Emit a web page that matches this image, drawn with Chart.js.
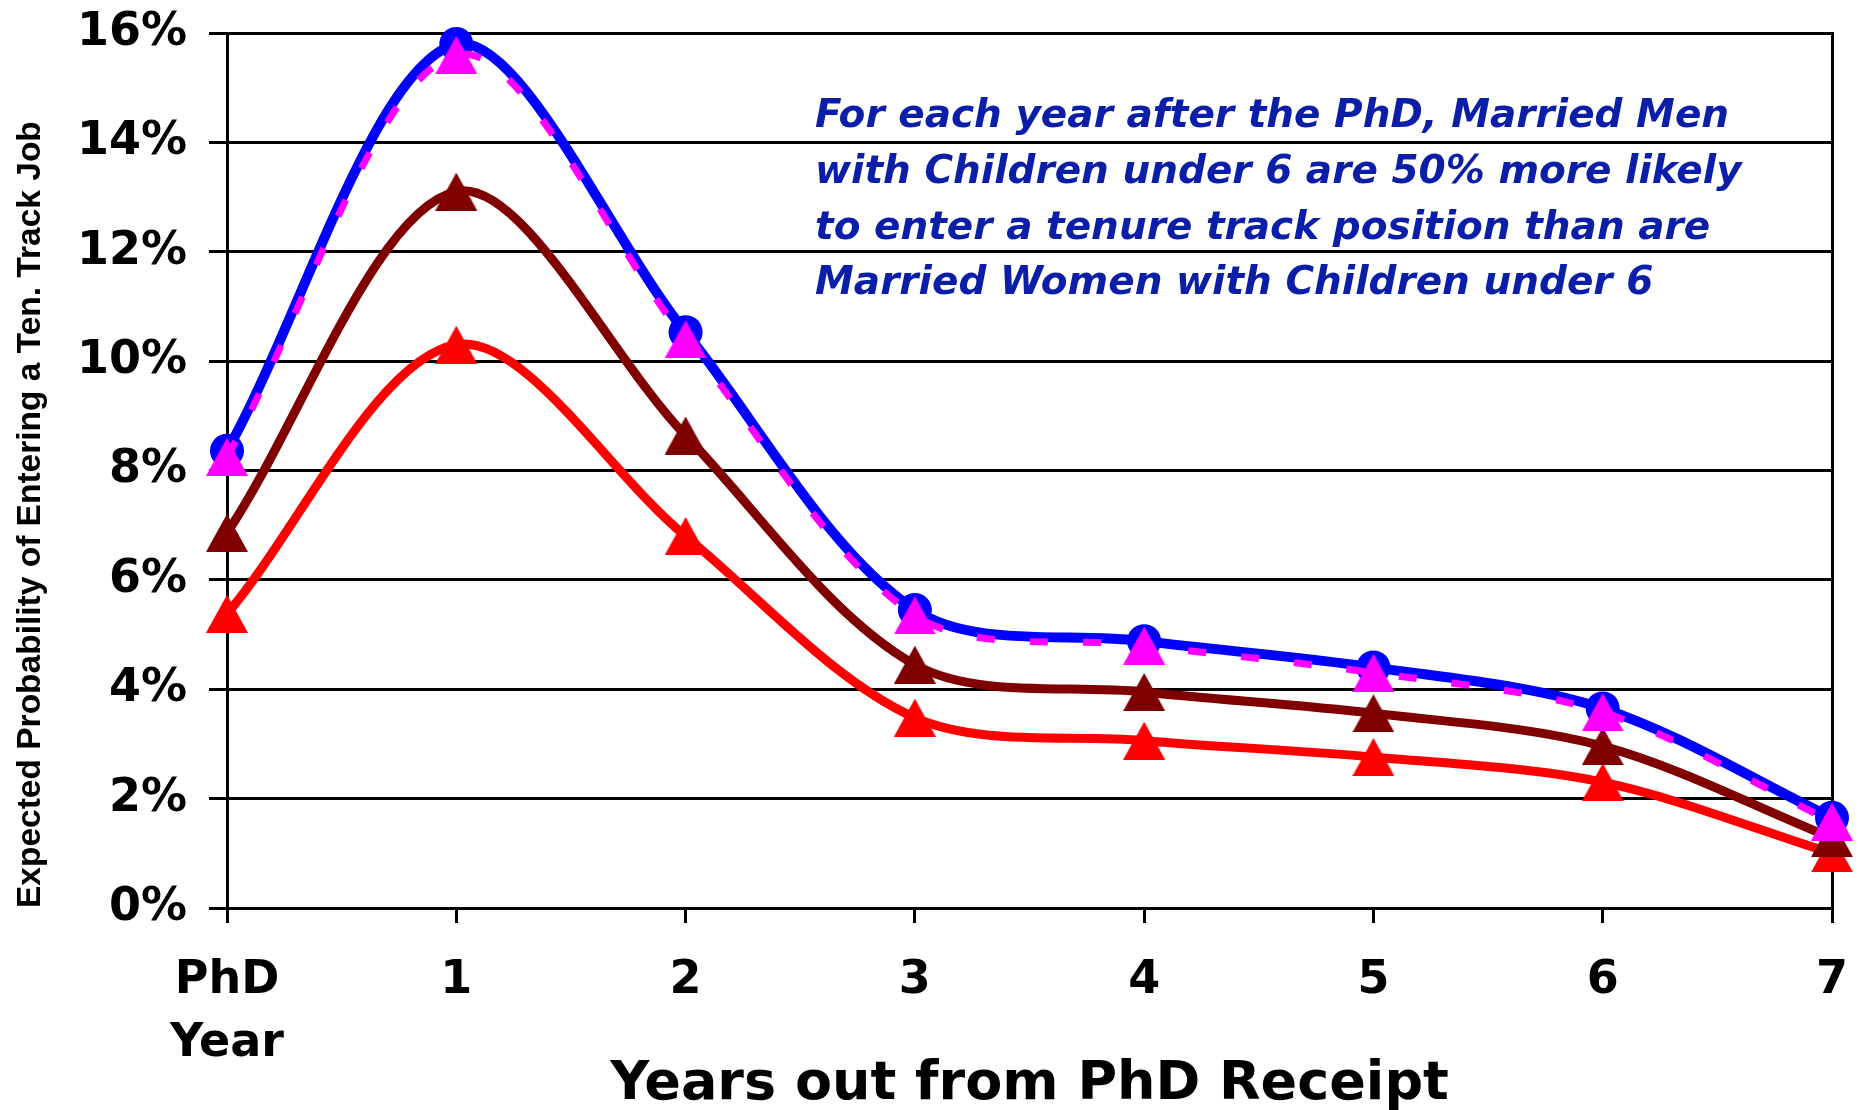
<!DOCTYPE html>
<html>
<head>
<meta charset="utf-8">
<script src="https://cdn.jsdelivr.net/npm/chart.js@4.4.1/dist/chart.umd.min.js"></script>
<style>
  html, body { margin: 0; padding: 0; background: #ffffff; }
  #wrap { width: 1862px; height: 1110px; position: relative; }
</style>
</head>
<body>
<div id="wrap"><canvas id="c" width="1862" height="1110"></canvas></div>
<script>
const categories = [["PhD", "Year"], "1", "2", "3", "4", "5", "6", "7"];
const marriedMenKids = [8.36, 15.8, 10.53, 5.45, 4.88, 4.40, 3.65, 1.65];
const magentaSeries  = [8.25, 15.6, 10.40, 5.35, 4.80, 4.30, 3.58, 1.58];
const darkRedSeries  = [6.86, 13.1, 8.64, 4.45, 3.95, 3.56, 2.96, 1.28];
const redSeries      = [5.38, 10.3, 6.80, 3.48, 3.06, 2.76, 2.30, 1.00];
const yTicks = [0, 2, 4, 6, 8, 10, 12, 14, 16];
const xTitle = "Years out from PhD Receipt";
const yTitle = "Expected Probability of Entering a Ten. Track Job";
const noteLines = [
  "For each year after the PhD, Married Men",
  "with Children under 6 are 50% more likely",
  "to enter a tenure track position than are",
  "Married Women with Children under 6"
];

function triangleMarker(color) {
  const w = 42, h = 38;
  const cv = document.createElement('canvas');
  cv.width = w; cv.height = h;
  const c = cv.getContext('2d');
  c.fillStyle = color;
  c.beginPath();
  c.moveTo(w / 2, 0);
  c.lineTo(w, h);
  c.lineTo(0, h);
  c.closePath();
  c.fill();
  return cv;
}

const notePlugin = {
  id: 'note',
  afterDraw(chart) {
    const ctx = chart.ctx;
    ctx.save();
    ctx.font = 'italic bold 39px "DejaVu Sans"';
    ctx.fillStyle = '#0A1EA8';
    ctx.textAlign = 'left';
    ctx.textBaseline = 'middle';
    noteLines.forEach((t, i) => ctx.fillText(t, 815, 117 + i * 55.7));
    ctx.restore();
  }
};

function noPad(scale) {
  scale.paddingTop = 0; scale.paddingBottom = 0;
  scale.paddingLeft = 0; scale.paddingRight = 0;
}

new Chart(document.getElementById('c'), {
  type: 'line',
  data: {
    labels: categories,
    datasets: [
      {
        label: 'Series 4',
        data: magentaSeries,
        borderColor: '#FF00FF', backgroundColor: '#FF00FF',
        borderWidth: 7, borderDash: [18, 35],
        pointStyle: triangleMarker('#FF00FF'), pointRadius: 21,
        tension: 0.32, clip: false, order: 1
      },
      {
        label: 'Married Men, children under 6',
        data: marriedMenKids,
        borderColor: '#0000FF', backgroundColor: '#0000FF',
        borderWidth: 10,
        pointStyle: 'circle', pointRadius: 17, pointBorderWidth: 0,
        pointBorderColor: '#0000FF', pointBackgroundColor: '#0000FF',
        tension: 0.32, clip: false, order: 2
      },
      {
        label: 'Series 3',
        data: darkRedSeries,
        borderColor: '#800000', backgroundColor: '#800000',
        borderWidth: 9,
        pointStyle: triangleMarker('#800000'), pointRadius: 21,
        tension: 0.32, clip: false, order: 3
      },
      {
        label: 'Married Women, children under 6',
        data: redSeries,
        borderColor: '#FF0000', backgroundColor: '#FF0000',
        borderWidth: 9,
        pointStyle: triangleMarker('#FF0000'), pointRadius: 21,
        tension: 0.32, clip: false, order: 4
      }
    ]
  },
  options: {
    responsive: false,
    animation: false,
    devicePixelRatio: 1,
    layout: { padding: { top: 33, right: 12, left: 0, bottom: 0 } },
    plugins: { legend: { display: false }, tooltip: { enabled: false } },
    scales: {
      x: {
        type: 'category',
        offset: false,
        afterFit(scale) { scale.height = 202; noPad(scale); },
        grid: { display: true, drawOnChartArea: false, drawTicks: true, tickLength: 15, color: '#000', lineWidth: 3 },
        border: { display: true, color: '#000', width: 3 },
        ticks: {
          color: '#000', padding: 27, maxRotation: 0, autoSkip: false,
          font: { family: '"DejaVu Sans"', weight: 'bold', size: 46, lineHeight: 1.36 }
        },
        title: {
          display: true, text: xTitle, color: '#000',
          font: { family: '"DejaVu Sans"', weight: 'bold', size: 54, lineHeight: 1.2 },
          padding: { top: 0, bottom: -7 }
        }
      },
      y: {
        min: 0, max: 16,
        afterFit(scale) { scale.width = 227; noPad(scale); },
        afterBuildTicks(scale) { scale.ticks = yTicks.map(v => ({ value: v })); },
        grid: { color: '#000', lineWidth: 3, tickLength: 18, drawTicks: true },
        border: { display: true, color: '#000', width: 3 },
        ticks: {
          color: '#000', padding: 22,
          callback: v => v + '%',
          font: { family: '"DejaVu Sans"', weight: 'bold', size: 46 }
        },
        title: {
          display: true, text: yTitle, color: '#000', align: 'start',
          font: { family: '"Liberation Sans"', weight: 'bold', size: 33.5, lineHeight: 1.2 },
          padding: { top: 11, bottom: 0 }
        }
      },
      y2: {
        position: 'right', min: 0, max: 16,
        afterFit(scale) { scale.width = 0; noPad(scale); },
        grid: { display: false, drawOnChartArea: false, drawTicks: false },
        border: { display: true, color: '#000', width: 3 },
        ticks: { display: false }
      }
    }
  },
  plugins: [notePlugin]
});
</script>
</body>
</html>
